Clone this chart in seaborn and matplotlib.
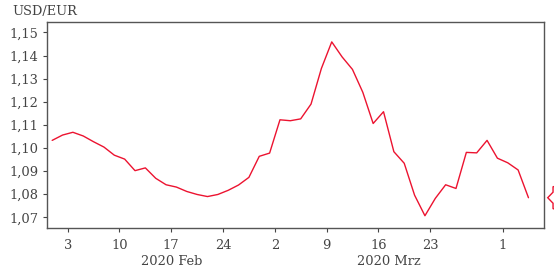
import numpy as np
import pandas as pd
import matplotlib
matplotlib.use("Agg")
import matplotlib.pyplot as plt
from matplotlib.path import Path
from matplotlib.transforms import blended_transform_factory
import seaborn as sns

# ---- data ----
start_date = "2020-01-30"
end_date = "2020-04-03"
usd_eur = [
    1.1033, 1.1056, 1.1068, 1.1052, 1.1027, 1.1004, 1.0969, 1.0952, 1.0902, 1.0914,
    1.0869, 1.0841, 1.0831, 1.0812, 1.0799, 1.0790, 1.0799, 1.0817, 1.0840, 1.0873,
    1.0964, 1.0978, 1.1122, 1.1118, 1.1126, 1.1190, 1.1344, 1.1459, 1.1394, 1.1340,
    1.1241, 1.1106, 1.1157, 1.0984, 1.0934, 1.0796, 1.0707, 1.0782, 1.0841, 1.0825,
    1.0981, 1.0979, 1.1033, 1.0956, 1.0936, 1.0905, 1.0785,
]
tick_dates = ["2020-02-03", "2020-02-10", "2020-02-17", "2020-02-24", "2020-03-02",
              "2020-03-09", "2020-03-16", "2020-03-23", "2020-04-01"]
tick_labels = ["3", "10", "17", "24", "2", "9", "16", "23", "1"]
month_labels = ["2020 Feb", "2020 Mrz"]
month_keys = ["2020-02", "2020-03"]
y_ticks = [1.07, 1.08, 1.09, 1.10, 1.11, 1.12, 1.13, 1.14, 1.15]
y_title = "USD/EUR"

dates = pd.bdate_range(start_date, end_date)
df = pd.DataFrame({"date": dates, "value": usd_eur})
df["pos"] = np.arange(len(df)) + 0.5   # business-day axis (weekends removed)

sns.set_theme(style="white")
plt.rcParams["font.family"] = ["DejaVu Serif", "DejaVu Sans"]
text_col = "#444444"
red = "#ec1330"

fig = plt.figure(figsize=(5.54, 2.71), dpi=100)
ax = fig.add_axes([47 / 554, 1 - 228 / 271, (544 - 47) / 554, (228 - 22) / 271])

sns.lineplot(data=df, x="pos", y="value", ax=ax, color=red, linewidth=1.0)

ax.set_xlim(0, len(df) + 1)
ax.set_ylim(1.0654, 1.1545)

pos_by_date = {d.strftime("%Y-%m-%d"): i for i, d in enumerate(dates)}
ax.set_xticks([pos_by_date[d] for d in tick_dates])
ax.set_xticklabels(tick_labels)
ax.set_yticks(y_ticks)
ax.set_yticklabels([f"{v:.2f}".replace(".", ",") for v in y_ticks])
ax.set_xlabel("")
ax.set_ylabel("")

ax.tick_params(axis="both", which="major", direction="out", length=3, width=0.8,
               color=text_col, labelcolor=text_col, labelsize=9.4, pad=3,
               bottom=True, left=True)
ax.tick_params(axis="x", pad=5)
for side, sp in ax.spines.items():
    sp.set_visible(True)
    sp.set_color("#555555")
    sp.set_linewidth(1.0)

# month labels below tick labels
trans = blended_transform_factory(ax.transData, ax.transAxes)
for key, lab in zip(month_keys, month_labels):
    sub = df[df["date"].dt.strftime("%Y-%m") == key]
    xc = (sub["pos"].min() + sub["pos"].max()) / 2
    ax.text(xc, -0.165, lab, transform=trans, ha="center", va="center",
            fontsize=9.4, color=text_col)

fig.text(12.5 / 554, 1 - 12 / 271, y_title, ha="left", va="center",
         fontsize=9.4, color=text_col)


# price tag for the last value (mostly clipped at the right edge, as in the reference)
def tag_box(x0, y0, width, height, mutation_size):
    pad = 0.35 * mutation_size
    x0, y0 = x0 - pad, y0 - pad
    width, height = width + 2 * pad, height + 2 * pad
    tip = 0.24 * height
    verts = [(x0 - tip, y0 + height / 2), (x0, y0 + height * 0.75),
             (x0, y0 + height), (x0 + width, y0 + height), (x0 + width, y0),
             (x0, y0), (x0, y0 + height * 0.25), (x0 - tip, y0 + height / 2)]
    codes = [Path.MOVETO] + [Path.LINETO] * 6 + [Path.CLOSEPOLY]
    return Path(verts, codes)


last = usd_eur[-1]
ytrans = blended_transform_factory(ax.transAxes, ax.transData)
ax.annotate(f"{last:.4f}".replace(".", ","), xy=(1.0, last), xycoords=ytrans,
            xytext=(9.8, 0), textcoords="offset points", ha="left", va="center",
            fontsize=9.4, color=red, annotation_clip=False,
            bbox=dict(boxstyle=tag_box, fc="white", ec=red, lw=1.0))

fig.savefig("out.png", dpi=100)
